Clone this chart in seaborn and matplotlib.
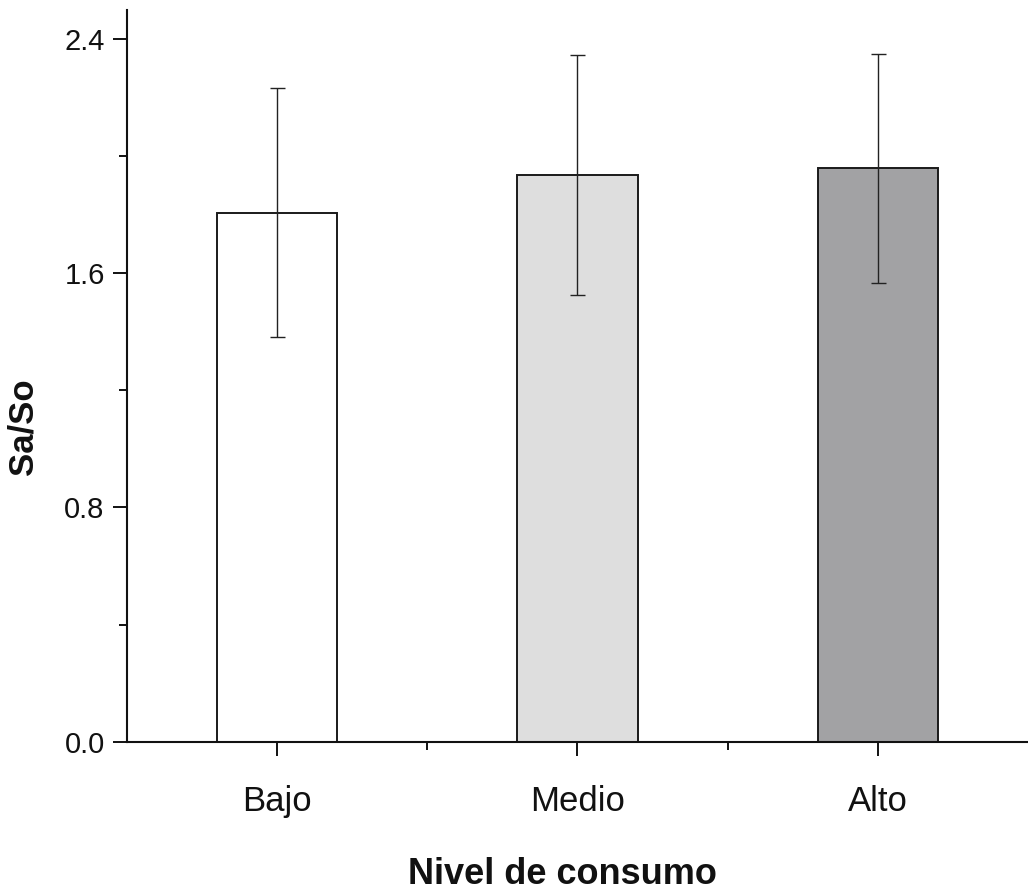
import matplotlib
matplotlib.use("Agg")
import matplotlib.pyplot as plt
import seaborn as sns
import pandas as pd
import numpy as np
from matplotlib.ticker import MultipleLocator

categories = ["Bajo", "Medio", "Alto"]
means = [1.807, 1.937, 1.958]
errors = [0.425, 0.41, 0.39]
colors = ["#ffffff", "#dedede", "#a2a2a4"]
y_ticks = [0.0, 0.8, 1.6, 2.4]
y_ticklabels = ["0.0", "0.8", "1.6", "2.4"]

sns.set_theme(style="ticks")
plt.rcParams["font.family"] = ["Liberation Sans", "DejaVu Sans"]

df = pd.DataFrame({"nivel": categories, "val": means})

fig = plt.figure(figsize=(10.28, 8.9), dpi=100)
ax = fig.add_axes([0.1235, 0.1666, 0.8765, 0.8225])

sns.barplot(data=df, x="nivel", y="val", hue="nivel", palette=colors,
            order=categories, hue_order=categories, errorbar=None,
            width=0.4, edgecolor="#1a1a1a", linewidth=1.4, legend=False, ax=ax)

xs = [p.get_x() + p.get_width() / 2 for p in ax.patches]
ax.errorbar(xs, means, yerr=errors, fmt="none", ecolor="#222222",
            elinewidth=1.0, capsize=5.4, capthick=1.0, zorder=5)

ax.set_xlim(-0.5, 2.5)
ax.set_ylim(0, 2.5)
ax.set_yticks(y_ticks)
ax.set_yticklabels(y_ticklabels)
ax.yaxis.set_minor_locator(MultipleLocator(0.4))
ax.set_xticks([0, 1, 2])
ax.set_xticklabels(categories)
ax.set_xticks([0.5, 1.5], minor=True)

for s in ["top", "right"]:
    ax.spines[s].set_visible(False)
for s in ["left", "bottom"]:
    ax.spines[s].set_linewidth(1.5)
    ax.spines[s].set_color("#111111")

ax.tick_params(axis="both", which="major", direction="out", length=10, width=1.4, color="#111111")
ax.tick_params(axis="both", which="minor", direction="out", length=5.5, width=1.4, color="#111111")
ax.tick_params(axis="y", which="major", labelsize=21, pad=6, labelcolor="#111111")
ax.tick_params(axis="x", which="major", labelsize=25, pad=21, labelcolor="#111111")

ax.set_xlabel("Nivel de consumo", fontsize=26, fontweight="bold", color="#111111")
ax.set_ylabel("Sa/So", fontsize=25, fontweight="bold", color="#111111")
ax.xaxis.set_label_coords(0.483, -0.157)
ax.yaxis.set_label_coords(-0.097, 0.43)

fig.savefig("out.png", dpi=100, facecolor="white")
